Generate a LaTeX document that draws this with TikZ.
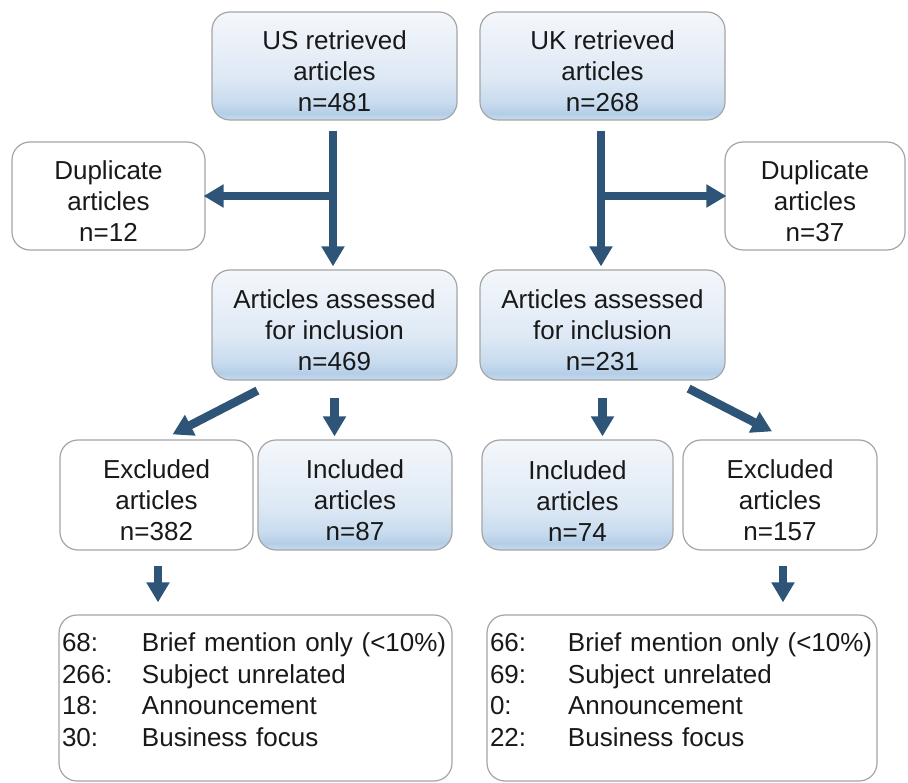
\documentclass[tikz,border=0pt]{standalone}
\usepackage{fontspec}
\setmainfont{Liberation Sans}
\usetikzlibrary{arrows.meta,calc}
\definecolor{arrowblue}{RGB}{46,84,120}
\definecolor{boxline}{RGB}{165,165,165}
\definecolor{gA}{RGB}{244,247,251}
\definecolor{gB}{RGB}{222,233,245}
\definecolor{gC}{RGB}{200,219,238}
\definecolor{gD}{RGB}{180,206,232}
\definecolor{gE}{RGB}{200,219,238}
\pgfdeclareverticalshading{boxshade}{100bp}{color(0bp)=(gE); color(25bp)=(gE); color(28bp)=(gD); color(33bp)=(gC); color(45bp)=(gB); color(75bp)=(gA); color(100bp)=(gA)}
\newcommand\tp{\rule{0pt}{30pt}}
\tikzset{
  box/.style={draw=boxline, line width=1.2pt, rounded corners=18pt, align=center,
    inner sep=0pt, font=\fontsize{26}{31}\selectfont, text=black!90},
  bluebox/.style={box, shading=boxshade},
  whitebox/.style={box, fill=white},
  listbox/.style={whitebox, align=left, inner xsep=3pt, minimum height=166pt,
    font=\fontsize{26}{31.5}\selectfont},
  arr/.style={draw=arrowblue, line width=8.5pt, -{Triangle[length=20pt,width=22pt]}},
}
\begin{document}
\begin{tikzpicture}[x=1pt,y=-1pt]
\useasboundingbox (0,0) rectangle (908,783);
% top row
\node[bluebox, minimum width=245pt, minimum height=108pt] (us) at (334.5,66) {\tp US retrieved\\articles\\n=481};
\node[bluebox, minimum width=245pt, minimum height=108pt] (uk) at (602.5,66) {\tp UK retrieved\\articles\\n=268};
% duplicates
\node[whitebox, minimum width=193pt, minimum height=108pt] (dupL) at (108.5,196) {\tp Duplicate\\articles\\n=12};
\node[whitebox, minimum width=180pt, minimum height=108pt] (dupR) at (815,196) {\tp Duplicate\\articles\\n=37};
% assessed
\node[bluebox, minimum width=245pt, minimum height=110pt] (asUS) at (334.5,325) {\tp Articles assessed\\for inclusion\\n=469};
\node[bluebox, minimum width=245pt, minimum height=110pt] (asUK) at (602.5,325) {\tp Articles assessed\\for inclusion\\n=231};
% excluded / included
\node[whitebox, minimum width=193pt, minimum height=110pt] (exUS) at (156.5,495) {\tp Excluded\\articles\\n=382};
\node[bluebox, minimum width=194pt, minimum height=110pt] (inUS) at (355,495) {\tp Included\\articles\\n=87};
\node[bluebox, minimum width=191pt, minimum height=110pt] (inUK) at (577.5,495) {\tp Included\\articles\\n=74};
\node[whitebox, minimum width=194pt, minimum height=110pt] (exUK) at (780,495) {\tp Excluded\\articles\\n=157};
% reasons
\node[listbox, text width=387pt] (botL) at (255.5,698) {%
\makebox[80pt][l]{68:}Brief mention only (<10\%)\\
\makebox[80pt][l]{266:}Subject unrelated\\
\makebox[80pt][l]{18:}Announcement\\
\makebox[80pt][l]{30:}Business focus\\[-15pt]\mbox{}};
\node[listbox, text width=384pt] (botR) at (682,698) {%
\makebox[78pt][l]{66:}Brief mention only (<10\%)\\
\makebox[78pt][l]{69:}Subject unrelated\\
\makebox[78pt][l]{0:}Announcement\\
\makebox[78pt][l]{22:}Business focus\\[-15pt]\mbox{}};
% connectors: top
\coordinate (jL) at ([xshift=-1.5pt]us.south |- dupL.east);
\coordinate (jR) at ([xshift=-1.5pt]uk.south |- dupR.west);
\draw[arr] ([xshift=-1.5pt,yshift=-10pt]us.south) -- ([xshift=-1.5pt,yshift=3pt]us.south |- asUS.north);
\draw[arr] ([xshift=4pt]jL) -- ([xshift=-2pt]dupL.east);
\draw[arr] ([xshift=-1.5pt,yshift=-10pt]uk.south) -- ([xshift=-1.5pt,yshift=3pt]uk.south |- asUK.north);
\draw[arr] ([xshift=-4pt]jR) -- ([xshift=2pt]dupR.west);
% assessed -> excluded / included
\draw[arr] ([xshift=46pt,yshift=-10pt]asUS.south west) -- ([xshift=16pt,yshift=5pt]exUS.north);
\draw[arr] ([yshift=-17pt]asUS.south) -- ([yshift=3pt]asUS.south |- inUS.north);
\draw[arr] ([yshift=-17pt]asUK.south) -- ([yshift=3pt]asUK.south |- inUK.north);
\draw[arr] ([xshift=-37pt,yshift=-8pt]asUK.south east) -- ([xshift=-8pt,yshift=8pt]exUK.north);
% excluded -> reasons
\draw[arr] ([xshift=1.5pt,yshift=-15pt]exUS.south) -- ([xshift=1.5pt,yshift=12pt]exUS.south |- botL.north);
\draw[arr] ([xshift=3pt,yshift=-15pt]exUK.south) -- ([xshift=3pt,yshift=12pt]exUK.south |- botR.north);
\end{tikzpicture}
\end{document}
